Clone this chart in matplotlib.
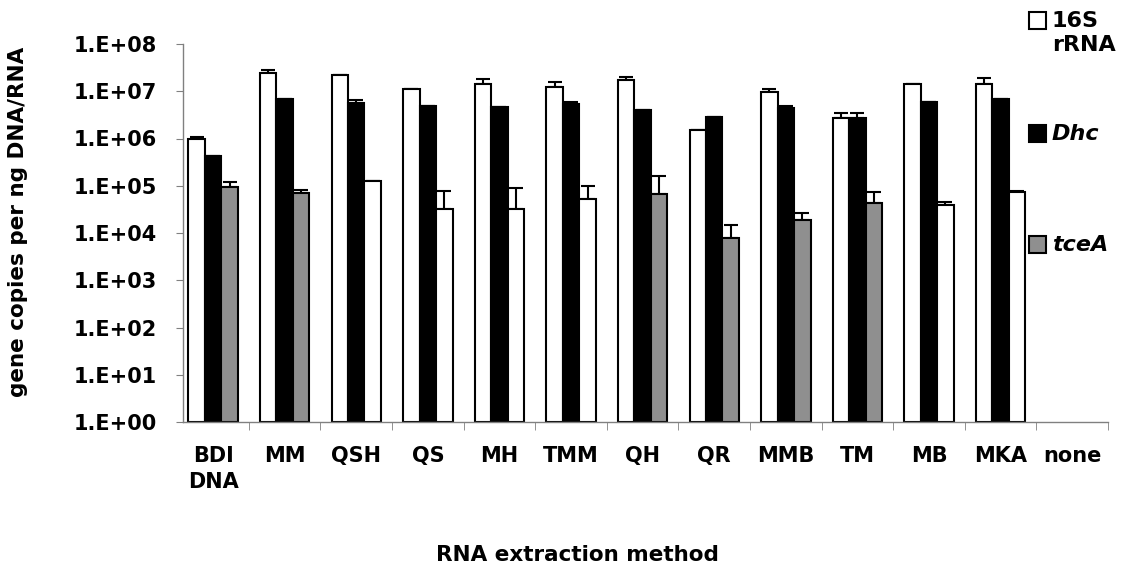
import numpy as np
import matplotlib
matplotlib.use("Agg")
import matplotlib.pyplot as plt
from matplotlib.patches import Rectangle

categories = ["BDI\nDNA", "MM", "QSH", "QS", "MH", "TMM", "QH", "QR", "MMB", "TM", "MB", "MKA", "none"]
rrna16s = [9.6e5, 2.4e7, 2.2e7, 1.1e7, 1.4e7, 1.25e7, 1.7e7, 1.5e6, 9.5e6, 2.7e6, 1.4e7, 1.4e7, np.nan]
rrna16s_err = [0.9e5, 4e6, 0.5e6, 0.3e6, 4e6, 3.5e6, 3e6, 0.05e6, 1.5e6, 0.8e6, 0.5e6, 5e6, 0]
dhc = [4.3e5, 6.8e6, 5.7e6, 4.9e6, 4.6e6, 5.4e6, 4.0e6, 2.8e6, 4.4e6, 2.7e6, 5.9e6, 6.9e6, np.nan]
dhc_err = [0, 0, 0.8e6, 0, 0, 0.5e6, 0, 0, 0.4e6, 0.7e6, 0, 0, 0]
tcea = [9.5e4, 6.9e4, 1.26e5, 3.2e4, 3.2e4, 5.2e4, 6.6e4, 7.7e3, 1.9e4, 4.3e4, 3.9e4, 7.5e4, np.nan]
tcea_err = [2.5e4, 1.2e4, 2e3, 4.5e4, 5.7e4, 4.6e4, 9.4e4, 7.3e3, 8e3, 3.1e4, 7e3, 2e3, 0]
tcea_filled = [True, True, False, False, False, False, True, True, True, True, False, False, False]
ytick_labels = ["1.E+00", "1.E+01", "1.E+02", "1.E+03", "1.E+04", "1.E+05", "1.E+06", "1.E+07", "1.E+08"]
legend_labels = ["16S\nrRNA", "Dhc", "tceA"]

plt.rcParams['font.family'] = ['DejaVu Sans']
plt.rcParams['font.weight'] = 'bold'

fig = plt.figure(figsize=(11.25, 5.73), dpi=100)
ax = fig.add_axes([183/1125, 151/573, 925/1125, 378/573])

n = len(categories)
x = np.arange(n)
w = 0.23
gray = '#8f8f8f'
ekw = dict(fmt='none', ecolor='black', elinewidth=1.5, capsize=5, capthick=1.5)

ax.bar(x - w, rrna16s, w, bottom=1, color='white', edgecolor='black', linewidth=1.5, zorder=2)
ax.errorbar(x - w, rrna16s, yerr=[np.zeros(n), rrna16s_err], zorder=1, **ekw)
ax.bar(x, dhc, w, bottom=1, color='black', edgecolor='black', linewidth=1.5, zorder=2)
ax.errorbar(x, dhc, yerr=[np.zeros(n), dhc_err], zorder=1, **ekw)
tcols = [gray if f else 'white' for f in tcea_filled]
ax.bar(x + w, tcea, w, bottom=1, color=tcols, edgecolor='black', linewidth=1.5, zorder=2)
ax.errorbar(x + w, tcea, yerr=[np.zeros(n), tcea_err], zorder=1, **ekw)

ax.set_yscale('log')
ax.set_ylim(1, 1e8)
ax.set_yticks([10.0**k for k in range(9)])
ax.set_yticklabels(ytick_labels)
ax.yaxis.set_minor_locator(matplotlib.ticker.NullLocator())
ax.set_xlim(-0.42, n - 0.5)
ax.set_xticks(x)
ax.set_xticklabels(categories, fontsize=15, fontweight='bold', va='top', linespacing=1.4)
ax.set_xticks(list(x[:-1] + 0.5) + [n - 0.5], minor=True)
ax.tick_params(axis='x', which='major', length=0, pad=17)
ax.tick_params(axis='x', which='minor', length=6, color='#808080', direction='out')
ax.tick_params(axis='y', length=5, color='#808080', labelsize=15, pad=14)
for lab in ax.get_yticklabels():
    lab.set_fontweight('bold')
for s in ['top', 'right']:
    ax.spines[s].set_visible(False)
for s in ['left', 'bottom']:
    ax.spines[s].set_color('#808080')
    ax.spines[s].set_linewidth(1)

fig.text(18/1125, 1 - 222/573, "gene copies per ng DNA/RNA", rotation=90, ha='center', va='center',
         fontsize=15.5, fontweight='bold')
fig.text(577/1125, 1 - 555/573, "RNA extraction method", ha='center', va='center',
         fontsize=15.5, fontweight='bold')

# legend
leg_fc = ['white', 'black', gray]
leg_y = [21, 134, 245]
leg_style = ['normal', 'italic', 'italic']
for lab, fc, yy, st in zip(legend_labels, leg_fc, leg_y, leg_style):
    fig.patches.append(Rectangle((1029/1125, 1 - (yy + 8)/573), 17/1125, 17/573,
                                 transform=fig.transFigure, facecolor=fc, edgecolor='black',
                                 linewidth=1.5))
    if '\n' in lab:
        fig.text(1052/1125, 1 - (yy - 10)/573, lab, ha='left', va='top',
                 fontsize=16, fontweight='bold', style=st, linespacing=1.25)
    else:
        fig.text(1052/1125, 1 - yy/573, lab, ha='left', va='center',
                 fontsize=16, fontweight='bold', style=st)

fig.savefig("out.png", dpi=100)
